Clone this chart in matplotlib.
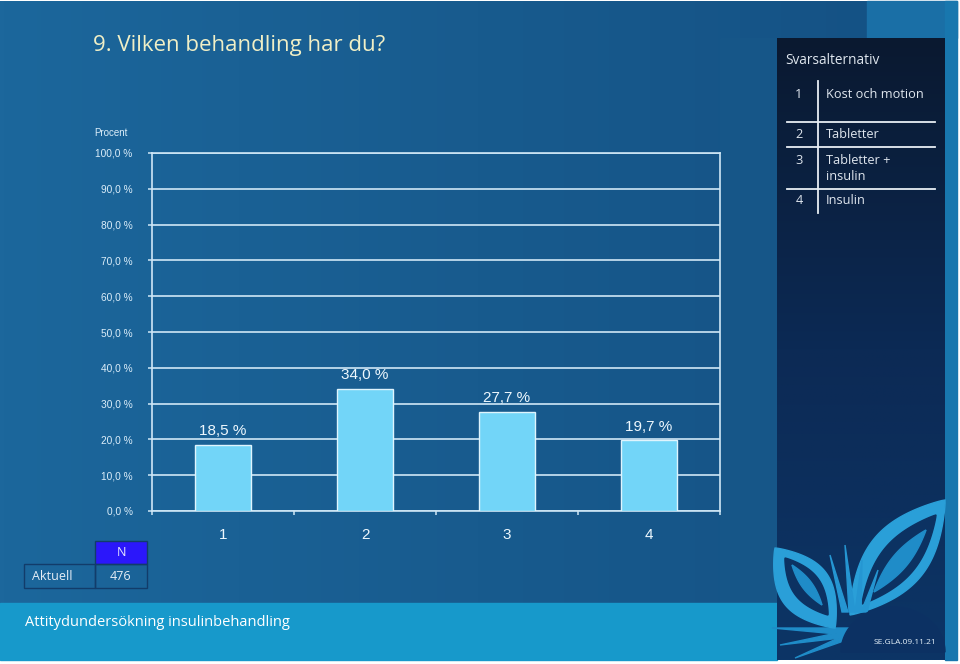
import numpy as np
import matplotlib.pyplot as plt
from matplotlib.patches import Rectangle, Polygon
from matplotlib.colors import LinearSegmentedColormap

# data
categories = ['1', '2', '3', '4']
percent = [18.5, 34.0, 27.7, 19.7]
yticks = list(range(0, 101, 10))
answers = ['Kost och motion', 'Tabletter', 'Tabletter +\ninsulin', 'Insulin']
row_label = 'Aktuell'
n_total = 476

title = '9. Vilken behandling har du?'
footer = 'Attitydundersökning insulinbehandling'
code = 'SE.GLA.09.11.21'

W, H = 960, 664
fig = plt.figure(figsize=(W / 100, H / 100), dpi=100, facecolor='white')

# background in pixel coordinates
bg = fig.add_axes([0, 0, 1, 1])
bg.set_xlim(0, W)
bg.set_ylim(H, 0)
bg.axis('off')

grad = np.linspace(0, 1, 256).reshape(1, -1)
bg.imshow(grad, extent=[0, 957, 660, 1], aspect='auto', zorder=0,
          cmap=LinearSegmentedColormap.from_list('bgc', ['#1c679c', '#185b8e', '#145083']))
bg.add_patch(Rectangle((867, 1), 90, 37, color='#1a6fa6', zorder=1))
bg.add_patch(Rectangle((945, 1), 12, 659, color='#1877ae', zorder=1))
bg.add_patch(Rectangle((720, 38), 57, 565, color='#165688', zorder=1))
bg.add_patch(Rectangle((0, 603), 777, 57, color='#1799cb', zorder=1))

vgrad = np.linspace(0, 1, 256).reshape(-1, 1)
bg.imshow(vgrad, extent=[777, 945, 660, 38], aspect='auto', zorder=2,
          cmap=LinearSegmentedColormap.from_list('nav', ['#0a1930', '#0c2a55', '#0c3566']))


def leaf(x0, y0, x1, y1, width, n=60):
    t = np.linspace(0, 1, n)
    L = np.hypot(x1 - x0, y1 - y0)
    ux, uy = (x1 - x0) / L, (y1 - y0) / L
    px, py = -uy, ux
    s = width * np.sin(np.pi * t) ** 0.9
    a = np.column_stack([x0 + ux * L * t + px * s, y0 + uy * L * t + py * s])
    b = np.column_stack([x0 + ux * L * t - px * s, y0 + uy * L * t - py * s])
    return np.vstack([a, b[::-1]])


# logo
lb = '#2a9fd8'
th = np.linspace(np.pi, 2 * np.pi, 60)
for xa, ya in [(772, 628), (780, 645), (795, 658)]:
    bg.add_patch(Polygon([(xa, ya), (860, 628), (858, 636)], color='#1f8cc8', zorder=3))
bg.add_patch(Polygon(leaf(850, 615, 945, 500, 30), color=lb, zorder=3))
bg.add_patch(Polygon(leaf(862, 604, 936, 515, 18), color='#0c3262', zorder=3))
bg.add_patch(Polygon(leaf(874, 592, 926, 530, 8), color='#1f8cc8', zorder=3))
bg.add_patch(Polygon(leaf(835, 628, 775, 548, 26), color=lb, zorder=3))
bg.add_patch(Polygon(leaf(828, 615, 785, 558, 14), color='#0c3262', zorder=3))
bg.add_patch(Polygon(leaf(822, 605, 792, 565, 5), color='#1f8cc8', zorder=3))
for x0, x1, y1 in [(845, 830, 555), (852, 845, 545), (858, 862, 560), (864, 878, 570)]:
    bg.add_patch(Polygon([(x0 - 3, 612), (x1, y1), (x0 + 3, 612)], color='#2596d2', zorder=3))
bg.add_patch(Polygon(np.column_stack([893 + 52 * np.cos(th), 652 + 45 * np.sin(th)]),
                     color='#0c3163', zorder=4))
bg.text(905, 643, code, fontsize=6, color='#e6f2fa', ha='center', va='center',
        family='Open Sans', zorder=5)

# text
bg.text(93, 46, title, fontsize=16, color='#f0efc6', va='center', family='Open Sans',
        weight='medium')
bg.text(25, 623, footer, fontsize=10.5, color='white', va='center', family='Open Sans')
bg.text(94, 133, 'Procent', fontsize=7, color='#dceefa', va='center', family='Liberation Sans')

# legend panel
txtc = '#dfe6ee'
bg.text(785, 60, 'Svarsalternativ', fontsize=9.8, color=txtc, va='center', family='Open Sans')
rows_y = [94, 135, 168, 201]
for i, (lbl, y) in enumerate(zip(answers, rows_y)):
    bg.text(799, y if i != 2 else 160, str(i + 1), fontsize=9.2, color=txtc,
            ha='center', va='center', family='Open Sans')
    bg.text(826, y, lbl, fontsize=9.2, color=txtc, va='center',
            family='Open Sans', linespacing=1.3)
bg.plot([818, 818], [81, 213], color='#e8eef4', lw=1.3, zorder=5)
for y in [122, 147, 189]:
    bg.plot([787, 935], [y, y], color='#e8eef4', lw=1.3, zorder=5)

# N table
bg.add_patch(Rectangle((95, 541), 52, 23, facecolor='#2b17fb', edgecolor='#123c6a', lw=1, zorder=5))
bg.add_patch(Rectangle((24, 564), 71, 24, facecolor='none', edgecolor='#123c6a', lw=1, zorder=5))
bg.add_patch(Rectangle((95, 564), 52, 24, facecolor='none', edgecolor='#123c6a', lw=1, zorder=5))
bg.text(121, 553, 'N', fontsize=9, color='#e8e8ff', ha='center', va='center',
        family='Open Sans', zorder=6)
bg.text(52, 576, row_label, fontsize=9, color='#e6eef6', ha='center', va='center',
        family='Open Sans', zorder=6)
bg.text(121, 576, str(n_total), fontsize=9, color='#e6eef6', ha='center', va='center',
        family='Open Sans', zorder=6)

# chart
lc = '#cfe7f6'
ax = fig.add_axes([152 / W, 1 - 511 / H, 568 / W, 358 / H])
ax.set_facecolor('none')
x = np.arange(1, len(categories) + 1)
ax.bar(x, percent, width=0.4, color='#72d5f8', edgecolor='#dff4fd', lw=1, zorder=3)
for xi, v in zip(x, percent):
    ax.annotate(f'{v:.1f} %'.replace('.', ','), (xi, v), xytext=(0, 5),
                textcoords='offset points', ha='center', va='bottom',
                fontsize=11, color='#eef8fe', family='Liberation Sans')

ax.set_xlim(0.5, len(categories) + 0.5)
ax.set_ylim(0, 100)
ax.set_yticks(yticks)
ax.set_yticklabels([f'{v:.1f} %'.replace('.', ',') for v in yticks],
                   fontsize=7.3, color='#dceefa', family='Liberation Sans')
ax.tick_params(axis='y', length=3, width=1.1, color=lc, pad=11)
ax.set_xticks(np.arange(0.5, len(categories) + 1, 1))
ax.set_xticklabels([])
ax.tick_params(axis='x', which='major', length=3, width=1.1, color=lc)
ax.set_xticks(x, minor=True)
ax.set_xticklabels(categories, minor=True, fontsize=11, color='#eef8fe',
                   family='Liberation Sans')
ax.tick_params(axis='x', which='minor', length=0, pad=12)
ax.grid(axis='y', color=lc, lw=1.2, zorder=1)
for s in ax.spines.values():
    s.set_color(lc)
    s.set_linewidth(1.2)

fig.savefig('out.png', dpi=100, facecolor=fig.get_facecolor())
